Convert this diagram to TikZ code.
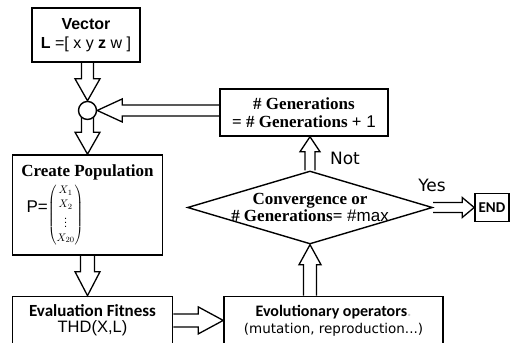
\documentclass[tikz,border=0pt]{standalone}
\usepackage{fontspec}
\setmainfont{Liberation Sans}
\newfontfamily\titlefont{Liberation Serif}
\newfontfamily\boldsans{Carlito}
\newfontfamily\widesans{DejaVu Sans}
\usetikzlibrary{shapes.geometric, positioning, calc, backgrounds}

\tikzset{
  stepbox/.style={
    rectangle, draw=black, line width=1.5pt, inner sep=0pt,
    align=center, text=black, font=\fontsize{16}{16}\selectfont
  },
  testbox/.style={
    diamond, draw=black, line width=1.4pt, inner sep=0pt, align=center,
    minimum width=245pt, minimum height=73pt, font=\fontsize{17}{15}\selectfont
  },
  joint/.style={
    circle, draw=black, line width=1.4pt, fill=white,
    minimum size=18pt, inner sep=0pt
  },
  hollow/.style={draw=black, line width=1.3pt, line join=miter},
  answer/.style={font=\widesans\fontsize{17}{17}\selectfont, text=black}
}

% block arrow: shaft half width, head half width, head length, from, to
\newcommand{\hollowarrow}[5]{%
  \coordinate (neck) at ($(#5)!#3!(#4)$);
  \draw[hollow] ($(#4)!#1!90:(#5)$) -- ($(neck)!#1!-90:(#4)$)
    -- ($(neck)!#2!-90:(#4)$) -- (#5) -- ($(neck)!#2!90:(#4)$)
    -- ($(neck)!#1!90:(#4)$) -- ($(#4)!#1!-90:(#5)$);
}

\begin{document}
\begin{tikzpicture}[x=1pt, y=-1pt]
  \useasboundingbox (0,0) rectangle (510,342);

  % Left column
  \node[stepbox, minimum width=108pt, minimum height=54pt] (vec) at (86,35)
    {\bfseries Vector\\[3pt]{\bfseries L} =[ x y {\bfseries z} w ]};
  \node[joint, below=38pt of vec, xshift=1.5pt] (join) {};
  \node[stepbox, below=34pt of join, minimum width=150pt, minimum height=100pt] (pop)
    {{\titlefont\bfseries\fontsize{17}{17}\selectfont Create Population}\\[3pt]
     \raisebox{5pt}{\fontsize{17}{17}\selectfont P=}{\fontsize{11}{14}\selectfont
     $\left(\begin{array}{@{}c@{}} X_1\\ X_2\\ \vdots\\ X_{20}\end{array}\right)$}\hspace*{65pt}};
  \node[stepbox, below=40pt of pop, xshift=5pt, minimum width=160pt, minimum height=48pt] (eval)
    {{\boldsans\bfseries\fontsize{17}{17}\selectfont Evaluation Fitness}\\
     {\fontsize{16.5}{16.5}\selectfont THD(X,L)}};

  % Right part
  \node[stepbox, right=50pt of eval, minimum width=219pt, minimum height=48pt] (evo)
    {{\boldsans\bfseries Evolutionary operators{\color{gray!40}.}}\\[1pt]
     {\widesans\fontsize{13.5}{13.5}\selectfont (mutation, reproduction...)}};
  \node[testbox] (cond) at (310,207.5)
    {\makebox[0pt]{\titlefont\bfseries Convergence or}\\
     \makebox[0pt]{{\titlefont\bfseries \# Generations=} \#max}};
  \node[stepbox, minimum width=168pt, minimum height=47pt, font=\fontsize{17}{18}\selectfont] (gen) at (304,112.5)
    {{\titlefont\bfseries \# Generations}\\
     {\titlefont\bfseries = \# Generations +} 1};
  \node[stepbox, right=41pt of cond, minimum width=34pt, minimum height=28pt,
        font=\boldsans\bfseries\fontsize{15}{15}\selectfont] (end) {END};

  % Labels
  \node[answer] (no) at (345,158) {Not};
  \node[answer] (yes) at (432,185) {Yes};

  % Arrows
  \begin{scope}[on background layer]
    \hollowarrow{6pt}{12.5pt}{22pt}{join |- vec.south}{join.north}
    \hollowarrow{6pt}{12.5pt}{22pt}{join.center}{pop.north}
    \hollowarrow{5.5pt}{11.5pt}{25pt}{gen.west |- join}{join.east}
    \hollowarrow{7pt}{12.5pt}{24pt}{pop.south}{pop.south |- eval.north}
    \hollowarrow{6.5pt}{13.5pt}{25pt}{eval.east}{evo.west}
    \hollowarrow{6.5pt}{11pt}{20pt}{cond.south |- evo.north}{cond.south}
    \hollowarrow{5pt}{10pt}{15pt}{cond.north}{cond.north |- gen.south}
    \hollowarrow{5pt}{10pt}{12pt}{cond.east}{end.west}
  \end{scope}
\end{tikzpicture}
\end{document}
